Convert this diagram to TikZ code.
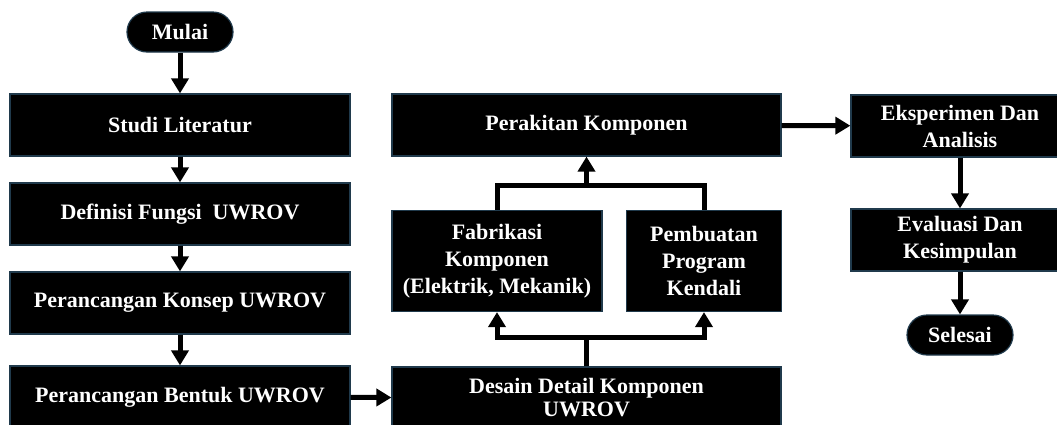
\documentclass[tikz,border=0pt]{standalone}
\usepackage{fontspec}
\setmainfont{Liberation Serif}
\usetikzlibrary{arrows.meta}
\definecolor{edgec}{RGB}{32,58,76}
\begin{document}
\begin{tikzpicture}[x=1pt,y=-1pt,
  box/.style={draw=edgec, line width=1.2pt, fill=black, text=white, inner sep=0pt,
    align=center, font=\fontsize{22}{27}\selectfont\bfseries},
  term/.style={box, rounded corners=20pt, minimum width=106pt, minimum height=40pt},
  ln/.style={line width=5pt},
  arr/.style={line width=5pt, -{Triangle[width=17pt,length=15pt]}}]
\useasboundingbox (0,0) rectangle (1057,424);
\clip (0,0) rectangle (1057,424);
% left column
\node[term] (mulai) at (180,32) {Mulai};
\node[box, minimum width=340pt, minimum height=62pt] (studi) at (180,125) {Studi Literatur};
\node[box, minimum width=340pt, minimum height=62pt] (def) at (180,214) {Definisi Fungsi\ \ UWROV};
\node[box, minimum width=340pt, minimum height=62pt] (konsep) at (180,303) {Perancangan Konsep UWROV};
\node[box, minimum width=340pt, minimum height=62pt] (bentuk) at (180,397) {Perancangan Bentuk UWROV};
% middle column
\node[box, minimum width=389pt, minimum height=62pt] (rakit) at (586.5,125) {Perakitan Komponen};
\node[box, minimum width=210pt, minimum height=101pt] (fab) at (497,261) {Fabrikasi\\Komponen\\(Elektrik, Mekanik)};
\node[box, minimum width=155pt, minimum height=101pt] (pemb) at (704,261) {Pembuatan\\Program\\Kendali};
\node[box, minimum width=389pt, minimum height=62pt] (desain) at (586.5,398) {Desain Detail Komponen\\[-4pt]UWROV};
% right column
\node[box, minimum width=218pt, minimum height=62pt] (eksp) at (960,126) {Eksperimen Dan\\Analisis};
\node[box, minimum width=218pt, minimum height=62pt] (eval) at (960,240) {Evaluasi Dan\\Kesimpulan};
\node[term] (selesai) at (960,335) {Selesai};
% connectors
\draw[arr] (mulai) -- (studi);
\draw[arr] (studi) -- (def);
\draw[arr] (def) -- (konsep);
\draw[arr] (konsep) -- (bentuk);
\draw[arr] (bentuk) -- (desain);
\coordinate (jb) at (586.5,337);
\coordinate (jt) at (586.5,185);
\draw[ln] (desain.north) -- (jb);
\draw[arr] (jb) -| (fab.south);
\draw[arr] (jb) -| (pemb.south);
\draw[ln] (fab.north) |- (jt);
\draw[ln] (pemb.north) |- (jt);
\draw[arr] (jt) -- (rakit.south);
\draw[arr] (rakit) -- (eksp);
\draw[arr] (eksp) -- (eval);
\draw[arr] (eval) -- (selesai);
\end{tikzpicture}
\end{document}
